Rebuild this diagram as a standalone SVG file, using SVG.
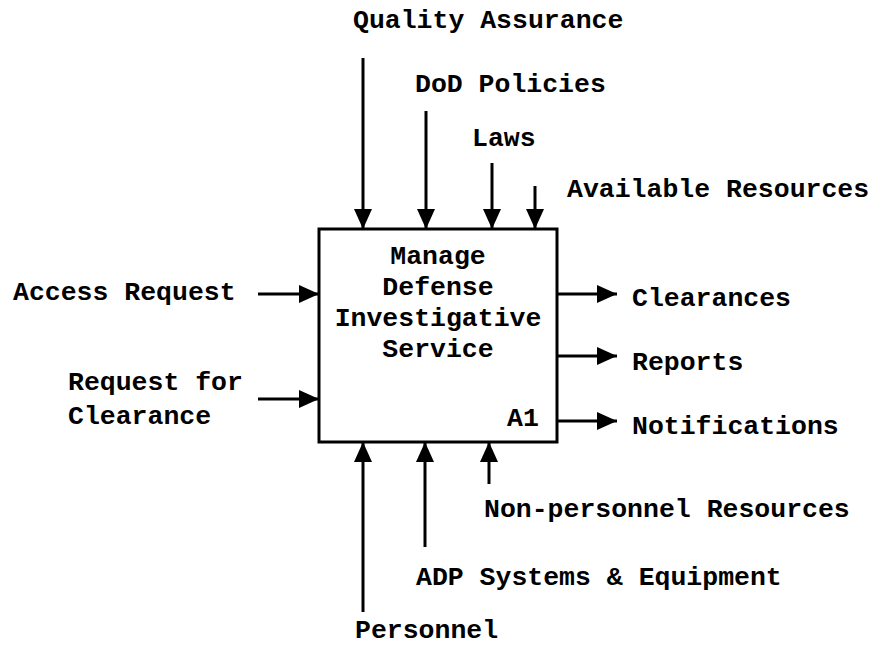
<svg xmlns="http://www.w3.org/2000/svg" width="873" height="649" viewBox="0 0 873 649">
<style>
text{font-family:"Liberation Mono","Courier New",monospace;font-weight:bold;font-size:26.5px;fill:#000}
.c{text-anchor:middle}
.ln{stroke:#000;stroke-width:3;fill:none}
</style>
<defs>
<marker id="ah" markerUnits="userSpaceOnUse" markerWidth="20" markerHeight="18" refX="20" refY="9" orient="auto" viewBox="0 0 20 18">
<path d="M0,0 L20,9 L0,18 Z" fill="#000"/>
</marker>
</defs>
<rect width="873" height="649" fill="#fff"/>
<g id="A1">
<rect x="319" y="229" width="238" height="213" fill="#fff" stroke="#000" stroke-width="3"/>
<text class="c" x="438" y="264">Manage</text>
<text class="c" x="438" y="295">Defense</text>
<text class="c" x="438" y="326">Investigative</text>
<text class="c" x="438" y="357">Service</text>
<text x="507" y="426">A1</text>
</g>
<g id="connectors">
<line class="ln" x1="363" y1="58" x2="363" y2="229" marker-end="url(#ah)"/>
<line class="ln" x1="426" y1="111" x2="426" y2="229" marker-end="url(#ah)"/>
<line class="ln" x1="492" y1="163" x2="492" y2="229" marker-end="url(#ah)"/>
<line class="ln" x1="535" y1="186" x2="535" y2="229" marker-end="url(#ah)"/>
<line class="ln" x1="258" y1="294" x2="319" y2="294" marker-end="url(#ah)"/>
<line class="ln" x1="258" y1="399" x2="319" y2="399" marker-end="url(#ah)"/>
<line class="ln" x1="557" y1="294" x2="617" y2="294" marker-end="url(#ah)"/>
<line class="ln" x1="557" y1="356" x2="617" y2="356" marker-end="url(#ah)"/>
<line class="ln" x1="557" y1="421" x2="617" y2="421" marker-end="url(#ah)"/>
<line class="ln" x1="363" y1="612" x2="363" y2="442" marker-end="url(#ah)"/>
<line class="ln" x1="425" y1="547" x2="425" y2="442" marker-end="url(#ah)"/>
<line class="ln" x1="489" y1="484" x2="489" y2="442" marker-end="url(#ah)"/>
</g>
<g id="labels">
<text x="353" y="28">Quality Assurance</text>
<text x="415" y="92">DoD Policies</text>
<text x="472" y="146">Laws</text>
<text x="567" y="197">Available Resources</text>
<text x="13" y="300">Access Request</text>
<text x="68" y="390">Request for</text>
<text x="68" y="424">Clearance</text>
<text x="632" y="306">Clearances</text>
<text x="632" y="370">Reports</text>
<text x="632" y="434">Notifications</text>
<text x="484" y="517">Non-personnel Resources</text>
<text x="416" y="585">ADP Systems &amp; Equipment</text>
<text x="355" y="638">Personnel</text>
</g>
</svg>
